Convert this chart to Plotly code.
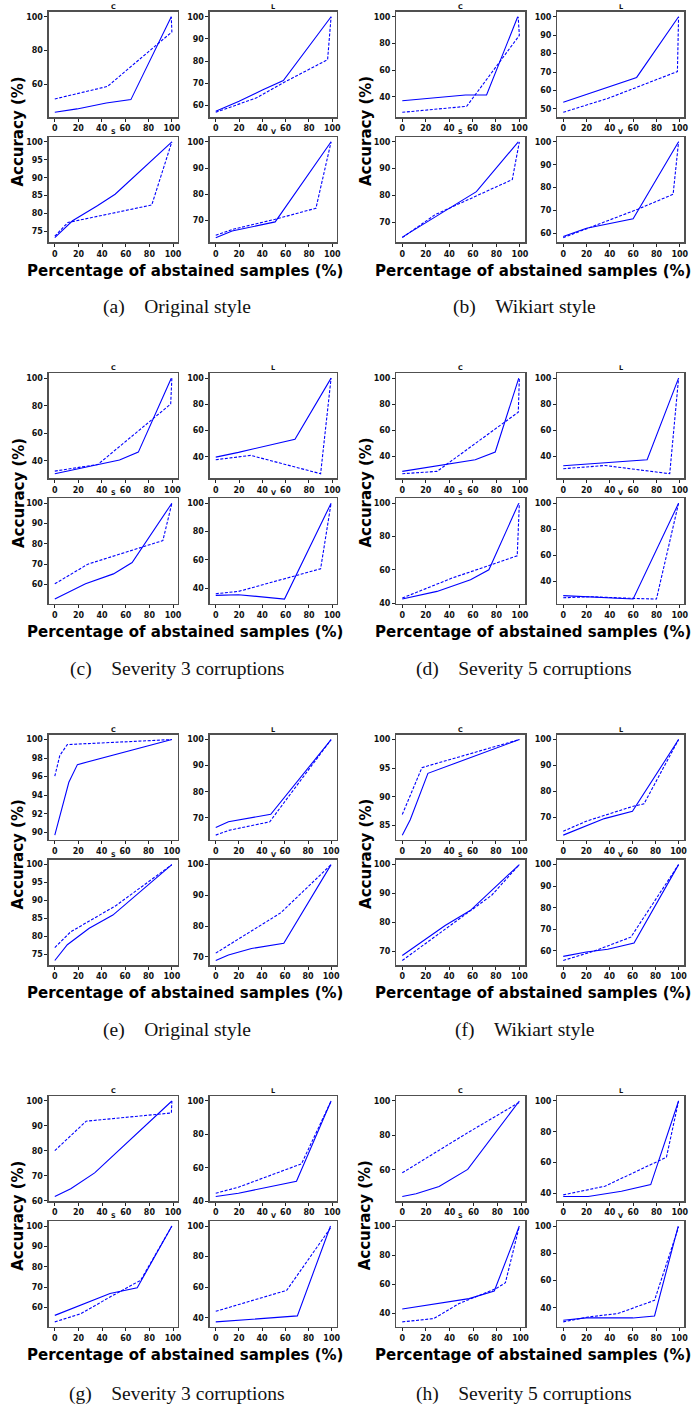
import plotly.graph_objects as go

W, H = 696, 1410

panel_keys = ["a", "b", "c", "d", "e", "f", "g", "h"]
captions = [
    "(a)\u2003Original style", "(b)\u2003Wikiart style",
    "(c)\u2003Severity 3 corruptions", "(d)\u2003Severity 5 corruptions",
    "(e)\u2003Original style", "(f)\u2003Wikiart style",
    "(g)\u2003Severity 3 corruptions", "(h)\u2003Severity 5 corruptions",
]
subplot_titles = ["C", "L", "S", "V"]
x_ticks = [0, 20, 40, 60, 80, 100]
y_title = "Accuracy (%)"
x_title = "Percentage of abstained samples (%)"

# ---------------- (a) ----------------
a_dticks = [20, 10, 5, 10]
a_C_sx = [0, 19, 44, 65, 99.5]; a_C_sy = [43.5, 45.5, 49.0, 51.0, 100]
a_C_dx = [0, 45, 100, 99.5]; a_C_dy = [51.4, 58.8, 91.0, 100]
a_L_sx = [0, 20, 40, 58, 99]; a_L_sy = [57.5, 62.0, 67.0, 71.3, 100]
a_L_dx = [0, 35, 58, 96, 99]; a_L_dy = [57.0, 63.5, 70.3, 80.7, 100]
a_S_sx = [0, 15, 36, 51, 99]; a_S_sy = [73.3, 78.0, 82.2, 85.4, 100]
a_S_dx = [0, 11, 82, 99]; a_S_dy = [73.7, 77.5, 82.4, 100]
a_V_sx = [0, 14, 51, 99]; a_V_sy = [63.5, 66.0, 69.5, 100]
a_V_dx = [0, 14, 51, 86, 99]; a_V_dy = [64.4, 66.6, 70.5, 74.7, 100]

# ---------------- (b) ----------------
b_dticks = [20, 10, 10, 10]
b_C_sx = [0, 54, 72, 98.6]; b_C_sy = [37.0, 41.3, 41.3, 100]
b_C_dx = [0, 55, 100, 99]; b_C_dy = [28.3, 32.8, 86.0, 100]
b_L_sx = [0, 63, 99]; b_L_sy = [53.6, 67.1, 100]
b_L_dx = [0, 38.6, 98, 99]; b_L_dy = [48.2, 55.8, 70.3, 100]
b_S_sx = [0, 63, 98.6]; b_S_sy = [64.4, 81.4, 100]
b_S_dx = [0, 28, 93.5, 99.5]; b_S_dy = [64.2, 72.8, 85.9, 100]
b_V_sx = [0, 20, 60, 99]; b_V_sy = [58.7, 62.3, 66.4, 100]
b_V_dx = [0, 20, 64, 94.3, 99]; b_V_dy = [58.2, 62.0, 70.6, 77.1, 100]

# ---------------- (c) ----------------
c_dticks = [20, 20, 10, 20]
c_C_sx = [0, 35, 55, 71, 99]; c_C_sy = [30.6, 36.9, 40.5, 46.3, 100]
c_C_dx = [0, 36.6, 98.5, 99.5]; c_C_dy = [32.5, 37.3, 81.2, 100]
c_L_sx = [0, 19.5, 68, 99]; c_L_sy = [39.7, 43.3, 53.4, 100]
c_L_dx = [0, 30, 90, 99]; c_L_dy = [37.7, 41.0, 27.0, 100]
c_S_sx = [0, 26, 49.6, 65.4, 99]; c_S_sy = [52.8, 60.3, 65.2, 70.8, 100]
c_S_dx = [0, 28, 91.4, 99]; c_S_dy = [60.3, 70.0, 81.6, 100]
c_V_sx = [0, 19.5, 59, 99]; c_V_sy = [34.8, 35.3, 32.2, 100]
c_V_dx = [0, 19.5, 90, 99]; c_V_dy = [36.0, 37.6, 53.6, 100]

# ---------------- (d) ----------------
d_dticks = [20, 20, 20, 20]
d_C_sx = [0, 31, 62, 79, 99]; d_C_sy = [28.2, 32.6, 37.2, 43.1, 100]
d_C_dx = [0, 29.5, 98.6, 99.5]; d_C_dy = [26.4, 28.2, 73.8, 100]
d_L_sx = [0, 72, 99]; d_L_sy = [32.9, 37.5, 100]
d_L_dx = [0, 35.7, 91.4, 99]; d_L_dy = [30.6, 33.1, 26.8, 100]
d_S_sx = [0, 29.5, 58, 73.6, 99]; d_S_sy = [42.4, 47.0, 54.0, 60.0, 100]
d_S_dx = [0, 42.3, 97.7, 99.5]; d_S_dy = [43.0, 55.0, 68.4, 100]
d_V_sx = [0, 60, 99]; d_V_sy = [29.3, 26.7, 100]
d_V_dx = [0, 24, 60, 80, 99]; d_V_dy = [27.7, 28.5, 27.2, 26.7, 100]

# ---------------- (e) ----------------
e_dticks = [2, 10, 5, 10]
e_C_sx = [0, 12, 19.3, 100]; e_C_sy = [89.7, 95.4, 97.3, 100]
e_C_dx = [0, 4.3, 10.7, 100]; e_C_dy = [96.05, 98.3, 99.46, 100]
e_L_sx = [0, 11, 47.7, 100]; e_L_sy = [66.3, 68.5, 71.4, 100]
e_L_dx = [0, 11, 46.8, 100]; e_L_dy = [63.4, 65.2, 68.5, 100]
e_S_sx = [0, 10.7, 29.4, 49.6, 100]; e_S_sy = [73.2, 77.6, 82.2, 85.9, 100]
e_S_dx = [0, 13.5, 52, 100]; e_S_dy = [76.8, 81.2, 88.5, 100]
e_V_sx = [0, 11, 31, 59, 100]; e_V_sy = [68.8, 70.6, 72.7, 74.4, 100]
e_V_dx = [0, 56.3, 100]; e_V_dy = [71.2, 84.3, 100]

# ---------------- (f) ----------------
f_dticks = [5, 10, 10, 10]
f_C_sx = [0, 6.8, 21.9, 100]; f_C_sy = [83.3, 86.0, 94.1, 100]
f_C_dx = [0, 16.8, 100]; f_C_dy = [86.9, 95.1, 100]
f_L_sx = [0, 35.7, 60, 100]; f_L_sy = [63.0, 69.4, 72.2, 100]
f_L_dx = [0, 20, 60, 70, 100]; f_L_dy = [64.5, 68.4, 74.1, 75.1, 100]
f_S_sx = [0, 36.6, 58, 100]; f_S_sy = [68.5, 78.9, 84.1, 100]
f_S_dx = [0, 58, 76.4, 100]; f_S_dy = [66.8, 84.0, 89.4, 100]
f_V_sx = [0, 20, 38.6, 61.4, 100]; f_V_sy = [57.5, 59.5, 60.8, 63.7, 100]
f_V_dx = [0, 27, 58.6, 100]; f_V_dy = [55.6, 60.0, 66.4, 100]

# ---------------- (g) ----------------
g_dticks = [10, 20, 10, 20]
g_C_sx = [0, 13.5, 33.7, 99]; g_C_sy = [61.7, 64.8, 71.2, 100]
g_C_dx = [0, 26.5, 98.6, 99]; g_C_dy = [80.1, 91.9, 95.2, 100]
g_L_sx = [0, 19.5, 69.3, 99]; g_L_sy = [42.8, 44.8, 52.0, 100]
g_L_dx = [0, 19.5, 73.6, 99]; g_L_dy = [44.8, 48.4, 62.4, 100]
g_S_sx = [0, 20.7, 46.7, 69.7, 99]; g_S_sy = [56.2, 61.1, 66.9, 69.7, 100]
g_S_dx = [0, 22, 46.7, 72.6, 99]; g_S_dy = [53.0, 57.0, 65.2, 73.4, 100]
g_V_sx = [0, 70.4, 99]; g_V_sy = [37.4, 41.3, 100]
g_V_dx = [0, 61.2, 99.5]; g_V_dy = [44.3, 58.0, 99.3]

# ---------------- (h) ----------------
h_dticks = [20, 20, 20, 20]
h_C_sx = [0, 11.6, 31, 55.1, 98.6]; h_C_sy = [44.4, 46.0, 50.2, 60.2, 100]
h_C_dx = [0, 31, 55, 98.6]; h_C_dy = [58.2, 71.3, 81.5, 99.2]
h_L_sx = [0, 21.4, 50, 75.1, 99]; h_L_sy = [37.8, 37.8, 41.3, 45.6, 100]
h_L_dx = [0, 35.7, 88.6, 99]; h_L_dy = [38.9, 44.5, 63.4, 100]
h_S_sx = [0, 56.5, 77.8, 99]; h_S_sy = [43.0, 50.1, 55.3, 100]
h_S_dx = [0, 26.7, 48, 79.3, 87.2, 99]; h_S_dy = [34.1, 36.4, 46.7, 57.0, 61.0, 100]
h_V_sx = [0, 20, 60, 78.6, 99]; h_V_sy = [31.0, 32.7, 32.7, 34.1, 100]
h_V_dx = [0, 21.4, 47, 78.6, 99.3]; h_V_dy = [29.8, 33.4, 35.9, 45.6, 99.3]

# ---------------- styling / geometry ----------------
LINE_COLOR = "#0000ff"
FRAME_COLOR = "#505050"
SANS = "DejaVu Sans"
SERIF = "Liberation Serif"
COL_DX = 350.0
ROW_DY = 362.7
SUB_X = [(49.3, 179.0), (211.5, 339.3)]
SUB_Y = [(12.0, 117.5), (137.5, 243.3)]
CAPTION_Y = [308.5, 671.5, 1034.0, 1398.5]


def px_x(v):
    return v / W


def px_y(v):
    return 1 - v / H


def padded(vals):
    lo, hi = min(vals), max(vals)
    pad = 0.05 * (hi - lo)
    return [lo - pad, hi + pad]


fig = go.Figure()
layout = {}
annotations = []
g = globals()
idx = 0
for p, key in enumerate(panel_keys):
    col, row = p % 2, p // 2
    ox, oy = col * COL_DX, row * ROW_DY
    dticks = g[f"{key}_dticks"]
    for k, name in enumerate(subplot_titles):
        idx += 1
        sc, sr = k % 2, k // 2
        x0, x1 = SUB_X[sc][0] + ox, SUB_X[sc][1] + ox
        y0, y1 = SUB_Y[sr][0] + oy, SUB_Y[sr][1] + oy
        sx, sy = g[f"{key}_{name}_sx"], g[f"{key}_{name}_sy"]
        dx_, dy_ = g[f"{key}_{name}_dx"], g[f"{key}_{name}_dy"]
        xr = padded(sx + dx_)
        yr = padded(sy + dy_)
        xa = "x" if idx == 1 else f"x{idx}"
        ya = "y" if idx == 1 else f"y{idx}"
        fig.add_trace(go.Scatter(x=sx, y=sy, mode="lines", xaxis=xa, yaxis=ya,
                                 line=dict(color=LINE_COLOR, width=1.1),
                                 showlegend=False, hoverinfo="skip"))
        fig.add_trace(go.Scatter(x=dx_, y=dy_, mode="lines", xaxis=xa, yaxis=ya,
                                 line=dict(color=LINE_COLOR, width=1.1, dash="3px,1.6px"),
                                 showlegend=False, hoverinfo="skip"))
        common = dict(showline=True, mirror=True, linecolor=FRAME_COLOR, linewidth=1.5,
                      ticks="outside", ticklen=3, tickwidth=1, tickcolor="#222",
                      showgrid=False, zeroline=False, fixedrange=True,
                      tickfont=dict(family=SANS, size=8, color="#111", weight="bold"))
        layout["xaxis" if idx == 1 else f"xaxis{idx}"] = dict(
            domain=[px_x(x0), px_x(x1)], anchor=ya, range=xr,
            tickmode="array", tickvals=x_ticks, ticktext=[str(t) for t in x_ticks],
            **common)
        layout["yaxis" if idx == 1 else f"yaxis{idx}"] = dict(
            domain=[px_y(y1), px_y(y0)], anchor=xa, range=yr,
            tickmode="linear", tick0=0, dtick=dticks[k], **common)
        annotations.append(dict(
            text=name, x=px_x((x0 + x1) / 2), y=px_y(y0 - 5), xref="paper", yref="paper",
            showarrow=False, xanchor="center", yanchor="middle",
            font=dict(family=SANS, size=6.5, color="#111", weight="bold")))
    annotations.append(dict(
        text=y_title, x=px_x(18.5 + ox), y=px_y(131.7 + oy), xref="paper", yref="paper",
        showarrow=False, textangle=-90, xanchor="center", yanchor="middle",
        font=dict(family=SANS, size=15, color="#000", weight="bold")))
    annotations.append(dict(
        text=x_title, x=px_x(186.5 + ox), y=px_y(271.5 + oy), xref="paper", yref="paper",
        showarrow=False, xanchor="center", yanchor="middle",
        font=dict(family=SANS, size=15, color="#000", weight="bold")))
    annotations.append(dict(
        text=captions[p], x=px_x(178.0 + ox), y=px_y(CAPTION_Y[row]), xref="paper",
        yref="paper", showarrow=False, xanchor="center", yanchor="middle",
        font=dict(family=SERIF, size=19.5, color="#111")))

fig.update_layout(
    width=W, height=H,
    margin=dict(l=0, r=0, t=0, b=0),
    paper_bgcolor="white", plot_bgcolor="white",
    annotations=annotations,
    **layout,
)

fig.write_html(
    "out.html",
    config={"displayModeBar": False, "staticPlot": True},
    post_script="document.body.style.margin='0';document.body.style.padding='0';"
                "document.documentElement.style.overflow='hidden';",
)
